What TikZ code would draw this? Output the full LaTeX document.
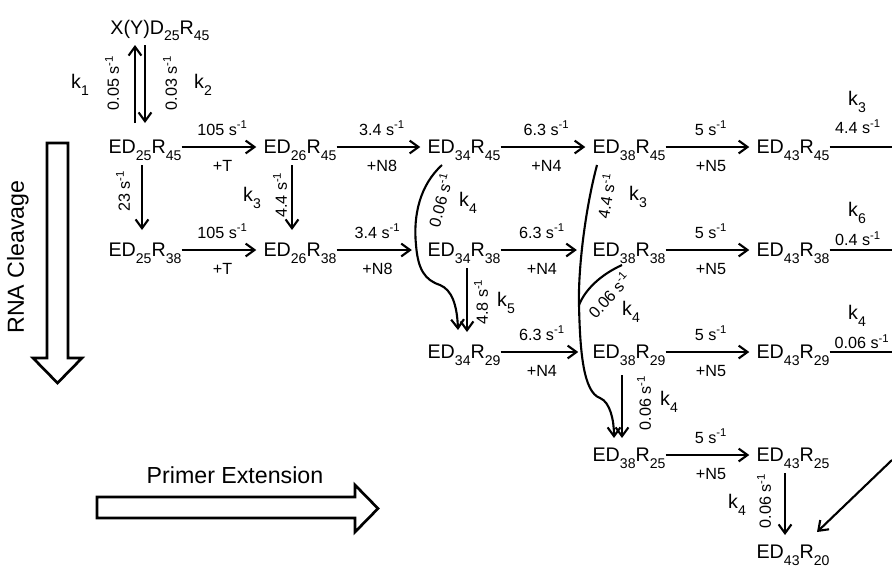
\documentclass[tikz,border=0pt]{standalone}
\usepackage{fontspec}
\setmainfont{Liberation Sans}
\usetikzlibrary{arrows.meta,positioning,calc}

\newcommand{\lowsub}[1]{\raisebox{-0.33em}{\fontsize{10}{10}\selectfont #1}}
\newcommand{\edr}[2]{ED\lowsub{#1}R\lowsub{#2}}
\newcommand{\persec}[1]{#1 s\textsuperscript{-1}}

\begin{document}
\begin{tikzpicture}[x=0.025cm, y=-0.025cm,
    spec/.style={inner sep=0pt, text depth=0pt, font=\fontsize{14}{16}\selectfont},
    rate/.style={inner sep=0pt, font=\fontsize{11.5}{13}\selectfont},
    kval/.style={inner sep=0pt, font=\fontsize{14}{16}\selectfont},
    lup/.style={rate, anchor=base, yshift=8.5pt},
    ldn/.style={rate, anchor=base, yshift=-17.5pt},
    big/.style={inner sep=0pt, font=\fontsize{16.5}{19}\selectfont},
    arrow/.style={-{Straight Barb[length=2.2mm,width=3.2mm]}, line width=1.5pt},
    flow/.style={line width=1.9pt, line join=miter}]

\useasboundingbox (0,0) rectangle (892,567);

\node[spec] (xy) at (160,27) {X(Y)D\lowsub{25}R\lowsub{45}};
\node[spec] (a1) at (145,147) {\edr{25}{45}};
\node[spec] (a2) at (300,147) {\edr{26}{45}};
\node[spec] (a3) at (464,147) {\edr{34}{45}};
\node[spec] (a4) at (629,147) {\edr{38}{45}};
\node[spec] (a5) at (793,147) {\edr{43}{45}};
\node[spec] (b1) at (145,250) {\edr{25}{38}};
\node[spec] (b2) at (300,250) {\edr{26}{38}};
\node[spec] (b3) at (464,250) {\edr{34}{38}};
\node[spec] (b4) at (629,250) {\edr{38}{38}};
\node[spec] (b5) at (793,250) {\edr{43}{38}};
\node[spec] (c3) at (464,352) {\edr{34}{29}};
\node[spec] (c4) at (629,352) {\edr{38}{29}};
\node[spec] (c5) at (793,352) {\edr{43}{29}};
\node[spec] (d4) at (629,455) {\edr{38}{25}};
\node[spec] (d5) at (793,455) {\edr{43}{25}};
\node[spec] (e5) at (793,552) {\edr{43}{20}};

\coordinate (r1) at (892,147);
\coordinate (r2) at (892,250);
\coordinate (r3) at (892,352);
\coordinate (r4) at (892,460);
\coordinate (jn) at (579,305);

\draw[arrow, shorten >=5pt] (a1) -- (a2) node[lup, midway] (t12) {\persec{105}} node[ldn, midway] (s12) {+T};
\draw[arrow, shorten >=5pt] (a2) -- (a3) node[lup, midway] (t23) {\persec{3.4}} node[ldn, midway] (s23) {+N8};
\draw[arrow, shorten >=5pt] (a3) -- (a4) node[lup, midway] (t34) {\persec{6.3}} node[ldn, midway] (s34) {+N4};
\draw[arrow, shorten >=5pt] (a4) -- (a5) node[lup, midway] (t45) {\persec{5}} node[ldn, midway] (s45) {+N5};
\draw[line width=1.5pt] (a5) -- (r1);

\draw[arrow, shorten >=5pt] (b1) -- (b2) node[lup, midway] (u12) {\persec{105}} node[ldn, midway] (v12) {+T};
\draw[arrow, shorten >=11pt] (b2) -- (b3) node[lup, pos=0.45] (u23) {\persec{3.4}} node[ldn, pos=0.45] (v23) {+N8};
\draw[arrow, shorten >=11pt] (b3) -- (b4) node[lup, pos=0.45] (u34) {\persec{6.3}} node[ldn, pos=0.45] (v34) {+N4};
\draw[arrow, shorten >=5pt] (b4) -- (b5) node[lup, midway] (u45) {\persec{5}} node[ldn, midway] (v45) {+N5};
\draw[line width=1.5pt] (b5) -- (r2);

\draw[arrow, shorten >=10pt] (c3) -- (c4) node[lup, pos=0.45] (w34) {\persec{6.3}} node[ldn, pos=0.45] (x34) {+N4};
\draw[arrow, shorten >=5pt] (c4) -- (c5) node[lup, midway] (w45) {\persec{5}} node[ldn, midway] (x45) {+N5};
\draw[line width=1.5pt] (c5) -- (r3);

\draw[arrow, shorten >=5pt] (d4) -- (d5) node[lup, midway] (y45) {\persec{5}} node[ldn, midway] (z45) {+N5};
\draw[arrow] (r4) -- ([shift={(24,-20)}]e5.center);

\draw[arrow] ([shift={(-10,-24)}]a1.center) -- ([shift={(-25,18)}]xy.center);
\draw[arrow] ([shift={(-15,18)}]xy.center) -- ([shift={(0,-24)}]a1.center);
\draw[arrow] ([shift={(-3,18)}]a1.center) -- ([shift={(-3,-20)}]b1.center);
\draw[arrow] ([shift={(-8,18)}]a2.center) -- ([shift={(-8,-20)}]b2.center);
\draw[arrow] ([shift={(3,18)}]b3.center) -- ([shift={(3,-20)}]c3.center);
\draw[arrow] ([shift={(-7,23)}]c4.center) -- ([shift={(-7,-17)}]d4.center);
\draw[arrow] ([shift={(-8,18)}]d5.center) -- ([shift={(-8,-17)}]e5.center);

\draw[arrow] ([shift={(-22,18)}]a3.center) .. controls (420,185) and (413,215) .. (416,245)
    .. controls (418,270) and (425,280) .. (440,285) .. controls (452,290) and (457,305) .. ([shift={(-6,-22)}]c3.center);
\draw[arrow] ([shift={(-32,18)}]a4.center) .. controls (585,210) and (578,270) .. (jn)
    .. controls (580,350) and (583,392) .. (600,398) .. controls (610,402) and (614,420) .. ([shift={(-15,-17)}]d4.center);
\draw[line width=1.5pt] ([shift={(-7,15)}]b4.center) .. controls (600,275) and (585,290) .. (jn);

\node[kval] (k1) at (80,85) {k\lowsub{1}};
\node[kval] (k2) at (203,85) {k\lowsub{2}};
\node[rate, rotate=90] (r05) at (112,83) {\persec{0.05}};
\node[rate, rotate=90] (r03) at (170,83) {\persec{0.03}};
\node[rate, rotate=90] (r23) at (123,191) {\persec{23}};
\node[rate, rotate=90] (r44a) at (280,195) {\persec{4.4}};
\node[kval] (k3a) at (252,198) {k\lowsub{3}};
\node[rate, rotate=75] (r06a) at (440,200) {\persec{0.06}};
\node[kval] (k4a) at (468,203) {k\lowsub{4}};
\node[rate, rotate=80] (r44b) at (606,196) {\persec{4.4}};
\node[kval] (k3b) at (638,197) {k\lowsub{3}};
\node[rate, rotate=48] (r06b) at (609,295) {\persec{0.06}};
\node[kval] (k4b) at (631,312) {k\lowsub{4}};
\node[rate, rotate=90] (r48) at (481,302) {\persec{4.8}};
\node[kval] (k5) at (506,303) {k\lowsub{5}};
\node[rate, rotate=90] (r06c) at (644,403) {\persec{0.06}};
\node[kval] (k4c) at (669,402) {k\lowsub{4}};
\node[rate, rotate=90] (r06d) at (764,501) {\persec{0.06}};
\node[kval] (k4d) at (737,505) {k\lowsub{4}};
\node[kval] (k3c) at (857,102) {k\lowsub{3}};
\node[rate] (r44c) at (858,127) {\persec{4.4}};
\node[kval] (k6) at (857,213) {k\lowsub{6}};
\node[rate] (r04) at (858,239) {\persec{0.4}};
\node[kval] (k4e) at (857,316) {k\lowsub{4}};
\node[rate] (r06e) at (862,342) {\persec{0.06}};

\draw[flow] (47,143) -- (68,143) -- (68,358) -- (82,358) -- (57.5,383) -- (33,358) -- (47,358) -- cycle;
\node[big, rotate=90] (rna) at (18,257) {RNA Cleavage};
\draw[flow] (97,497) -- (355,497) -- (355,485) -- (378,508.5) -- (355,532) -- (355,518) -- (97,518) -- cycle;
\node[big] (pe) at (235,475) {Primer Extension};
\end{tikzpicture}
\end{document}
